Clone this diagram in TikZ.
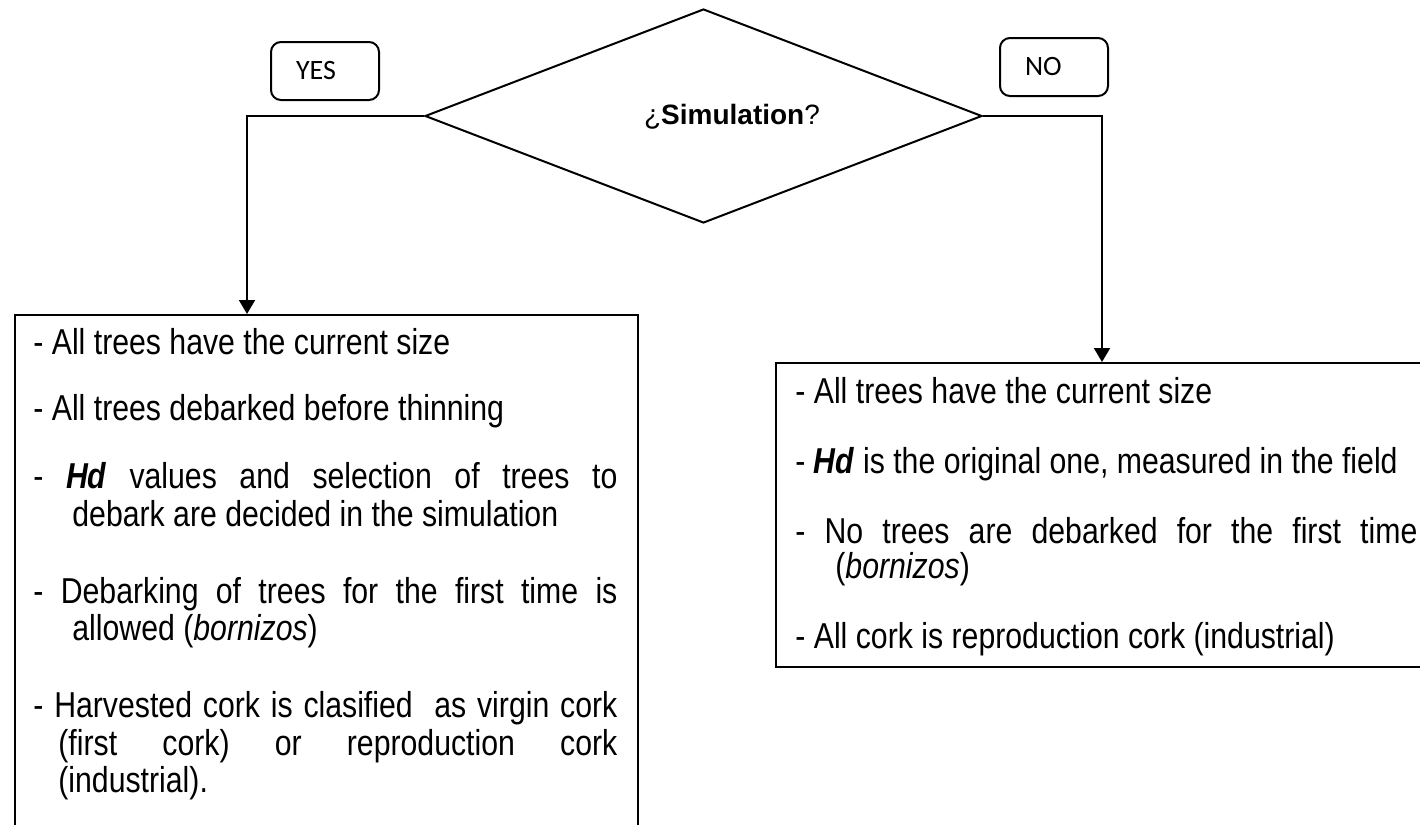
\documentclass[tikz,border=0pt]{standalone}
\usepackage{fontspec}
\setmainfont{Liberation Sans}
\newfontfamily\boxfont[FakeStretch=0.84]{Liberation Sans}
\newfontfamily\tagfont{Carlito}
\usetikzlibrary{arrows.meta,shapes.geometric}
\newcommand{\jline}[2]{\makebox[#1][s]{#2}}

\begin{document}
\begin{tikzpicture}[x=0.5pt, y=-0.5pt,
  flow/.style={line width=1pt, -{Triangle[length=7pt,width=8pt]}},
  tagbox/.style={draw, line width=1pt, rounded corners=5pt, anchor=north west,
    minimum height=29pt, inner xsep=12.5pt, text width=29pt, align=left,
    font=\tagfont\fontsize{14}{16}\selectfont},
  listbox/.style={draw, line width=1pt, anchor=north west, inner sep=0pt},
  txt/.style={anchor=base west, inner sep=0pt,
    font=\boxfont\fontsize{18}{20}\selectfont}]

% page frame (the lower box runs past the bottom edge)
\clip (0,0) rectangle (1420,825);

%% decision
\node[diamond, draw, line width=1pt, minimum width=278.5pt, minimum height=107pt,
  inner sep=0pt] (dec) at (703.5,116) {};
\node[anchor=base, font=\fontsize{14}{16}\selectfont] (qtext) at (732,124)
  {¿\textbf{Simulation}?};

%% branch tags
\node[tagbox] (yes) at (270,41) {YES};
\node[tagbox] (no) at (999,37) {NO};

%% result boxes
\node[listbox, minimum width=311.5pt, minimum height=270pt] (lbox) at (14,314) {};
\node[listbox, minimum width=332.5pt, minimum height=152pt] (rbox) at (775,362) {};

\coordinate (lin) at (247,314);
\coordinate (rin) at (1102,362);
\draw[flow] (dec.west) -| (lin);
\draw[flow] (dec.east) -| (rin);

%% left box: simulation
\node[txt] (l1) at (33,354) {- All trees have the current size};
\node[txt] (l2) at (33,420) {- All trees debarked before thinning};
\node[txt] (l3) at (33,488)
  {\jline{292pt}{- \textbf{\textit{Hd}} values and selection of trees to}};
\node[txt] (l4) at (72,526) {debark are decided in the simulation};
\node[txt] (l5) at (33,603)
  {\jline{292pt}{- Debarking of trees for the first time is}};
\node[txt] (l6) at (72,640) {allowed (\textit{bornizos})};
\node[txt] (l7) at (33,717)
  {\jline{292pt}{- Harvested cork is clasified\ \ as virgin cork}};
\node[txt] (l8) at (58,755)
  {\jline{279.5pt}{(first cork) or reproduction cork}};
\node[txt] (l9) at (58,792) {(industrial).};

%% right box: no simulation
\node[txt] (r1) at (795,403) {- All trees have the current size};
\node[txt] (r2) at (795,473)
  {- \textbf{\textit{Hd}} is the original one, measured in the field};
\node[txt] (r3) at (795,543)
  {\jline{311pt}{- No trees are debarked for the first time}};
\node[txt] (r4) at (835,578) {(\textit{bornizos})};
\node[txt] (r5) at (795,648) {- All cork is reproduction cork (industrial)};

\end{tikzpicture}
\end{document}
